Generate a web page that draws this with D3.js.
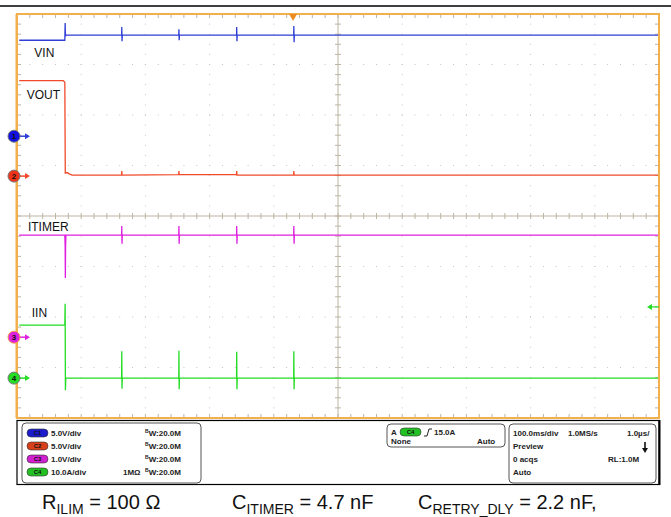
<!DOCTYPE html>
<html>
<head>
<meta charset="UTF-8">
<title>scope capture</title>
<script src="https://cdn.jsdelivr.net/npm/d3@7"></script>
<style>
  body { margin: 0; background: #fff; }
  text { font-family: "Liberation Sans", Arial, sans-serif; }
</style>
</head>
<body>
<svg id="scope" width="671" height="517" xmlns="http://www.w3.org/2000/svg"></svg>
<script>
// time in ms from left edge of screen, 100 ms/div
const timeDomain = [0, 1000];
const trigTime = 430;
const trigLevelDiv = -1.8;

// channels: name, colour, volts per div, ground offset in div
const channels = [
  { id: "1", name: "VIN",    color: "#2f3fd6", perDiv: 5,  offset: 1.58 },
  { id: "2", name: "VOUT",   color: "#f04a2a", perDiv: 5,  offset: 0.79 },
  { id: "3", name: "ITIMER", color: "#e020e0", perDiv: 1,  offset: -2.40 },
  { id: "4", name: "IIN",    color: "#22dd22", perDiv: 10, offset: -3.21 }
];

// waveforms as [t(ms), value]
const vin = [[3.5,9.5],[74.5,9.5],[75,11.2],[75.5,9.9],[76,10],
  [163,10],[163.2,10.8],[163.6,9.4],[164,10],
  [252,10],[252.2,10.6],[252.6,9.5],[253,10],
  [342,10],[342.2,10.8],[342.6,9.4],[343,10],
  [431,10],[431.2,10.9],[431.6,9.3],[432,10],
  [1000,10]];
const vout = [[3.5,9.46],[72,9.46],[74.5,9.3],[75.2,0.3],[78,0.35],[82,0.2],[86,0.1],
  [163,0.1],[163.2,0.5],[163.6,0.1],[252,0.15],[252.2,0.5],[252.6,0.15],
  [342,0.15],[342.2,0.5],[342.6,0.1],[431,0.1],[431.2,0.5],[431.6,0.1],
  [1000,0.1]];
const itimer = [[3.5,2.02],[74.5,2.02],[75,1.8],[75.3,1.17],[75.7,1.8],[76.2,2.02],
  [163,2.02],[163.2,2.2],[163.6,1.85],[164,2.02],
  [252,2.02],[252.2,2.2],[252.6,1.85],[253,2.02],
  [342,2.02],[342.2,2.2],[342.6,1.85],[343,2.02],
  [431,2.02],[431.2,2.2],[431.6,1.85],[432,2.02],
  [1000,2.02]];
const iin = [[3.5,10.5],[73,10.5],[74.5,10.6],[75,14.7],[75.4,-2.4],[76,0],
  [163,0],[163.2,5.3],[163.6,-2.1],[164,0],
  [252,0],[252.2,5.4],[252.6,-2.2],[253,0],
  [342,0],[342.2,5.2],[342.6,-2.2],[343,0],
  [431,0],[431.2,5.3],[431.6,-2.2],[432,0],
  [1000,0]];
const waves = [vin, vout, itimer, iin];

const labels = [
  { text: "VIN",    t: 27, div: 3.14 },
  { text: "VOUT",   t: 15, div: 2.31 },
  { text: "ITIMER", t: 17, div: -0.29 },
  { text: "IIN",    t: 23, div: -2.0 }
];

const chanRows = [
  { pill: "C1", scale: "5.0V/div",  imp: "",    bw: "20.0M" },
  { pill: "C2", scale: "5.0V/div",  imp: "",    bw: "20.0M" },
  { pill: "C3", scale: "1.0V/div",  imp: "",    bw: "20.0M" },
  { pill: "C4", scale: "10.0A/div", imp: "1MΩ", bw: "20.0M" }
];
const pillColors = ["#1c1ccc", "#d8401c", "#d020d0", "#22c022"];

const svg = d3.select("#scope");
const W = 671;
const pL = 17, pR = 659, pT = 14, pB = 418;

const x = d3.scaleLinear().domain(timeDomain).range([pL, pR]);
const y = d3.scaleLinear().domain([-4, 4]).range([pB, pT]);
const divX = (pR - pL) / 10, divY = (pB - pT) / 8;

// header rule
svg.append("line").attr("x1", 0).attr("x2", W).attr("y1", 6).attr("y2", 6)
  .attr("stroke", "#000").attr("stroke-width", 1.5);

// dotted grid
const g = svg.append("g");
for (let i = 1; i < 10; i++) {
  if (i === 5) continue;
  for (let k = 1; k < 40; k++) {
    g.append("rect").attr("x", pL + i * divX - 0.5).attr("y", pT + k * divY / 5 - 0.5)
      .attr("width", 1).attr("height", 1).attr("fill", "#c4c4c4");
  }
}
for (let j = 1; j < 8; j++) {
  if (j === 4) continue;
  for (let k = 1; k < 50; k++) {
    g.append("rect").attr("x", pL + k * divX / 5 - 0.5).attr("y", pT + j * divY - 0.5)
      .attr("width", 1).attr("height", 1).attr("fill", "#c4c4c4");
  }
}
// centre cross with minor ticks
const cx = x(500), cy = y(0);
const tickCol = "#bdb5a4";
g.append("line").attr("x1", cx).attr("x2", cx).attr("y1", pT).attr("y2", pB)
  .attr("stroke", tickCol).attr("stroke-width", 1);
g.append("line").attr("x1", pL).attr("x2", pR).attr("y1", cy).attr("y2", cy)
  .attr("stroke", tickCol).attr("stroke-width", 1);
for (let k = 1; k < 50; k++) {
  const px = pL + k * divX / 5;
  g.append("line").attr("x1", px).attr("x2", px).attr("y1", cy - 3).attr("y2", cy + 3)
    .attr("stroke", tickCol);
  g.append("line").attr("x1", px).attr("x2", px).attr("y1", pT).attr("y2", pT + 4)
    .attr("stroke", tickCol);
  g.append("line").attr("x1", px).attr("x2", px).attr("y1", pB - 4).attr("y2", pB)
    .attr("stroke", tickCol);
}
for (let k = 1; k < 40; k++) {
  const py = pT + k * divY / 5;
  g.append("line").attr("x1", cx - 3).attr("x2", cx + 3).attr("y1", py).attr("y2", py)
    .attr("stroke", tickCol);
  g.append("line").attr("x1", pL).attr("x2", pL + 4).attr("y1", py).attr("y2", py)
    .attr("stroke", tickCol);
  g.append("line").attr("x1", pR - 4).attr("x2", pR).attr("y1", py).attr("y2", py)
    .attr("stroke", tickCol);
}

// traces
channels.forEach((ch, i) => {
  const line = d3.line()
    .x(d => x(d[0]))
    .y(d => y(ch.offset + d[1] / ch.perDiv));
  svg.append("path").datum(waves[i]).attr("d", line)
    .attr("fill", "none").attr("stroke", ch.color).attr("stroke-width", 1.3);
});

// trace labels
labels.forEach(l => {
  svg.append("text").attr("x", x(l.t)).attr("y", y(l.div))
    .attr("font-size", 12).attr("fill", "#111").text(l.text);
});

// frame
svg.append("rect").attr("x", pL).attr("y", pT).attr("width", pR - pL).attr("height", pB - pT)
  .attr("fill", "none").attr("stroke", "#f1b04c").attr("stroke-width", 2);
svg.append("line").attr("x1", pL - 0.5).attr("x2", pL - 0.5).attr("y1", pT).attr("y2", pB)
  .attr("stroke", "#f1b04c").attr("stroke-width", 2);

// trigger position marker
const tx = x(trigTime);
svg.append("path").attr("d", `M${tx - 4},${pT} L${tx + 4},${pT} L${tx},${pT + 7} Z`)
  .attr("fill", "#ee8a22");

// trigger level marker for C4
const ty = y(trigLevelDiv);
svg.append("line").attr("x1", pR - 8).attr("x2", pR).attr("y1", ty).attr("y2", ty)
  .attr("stroke", "#22dd22").attr("stroke-width", 1.2);
svg.append("path").attr("d", `M${pR - 12},${ty} L${pR - 7},${ty - 3} L${pR - 7},${ty + 3} Z`)
  .attr("fill", "#22dd22");

// channel ground markers
channels.forEach(ch => {
  const py = y(ch.offset);
  const m = svg.append("g");
  m.append("line").attr("x1", 18).attr("x2", 26).attr("y1", py).attr("y2", py)
    .attr("stroke", ch.color).attr("stroke-width", 1.5);
  m.append("path").attr("d", `M${30},${py} L${25},${py - 3} L${25},${py + 3} Z`).attr("fill", ch.color);
  m.append("circle").attr("cx", 14).attr("cy", py).attr("r", 6)
    .attr("fill", ch.id === "1" ? "#1010e0" : ch.id === "2" ? "#ee3318" : ch.color)
    .attr("stroke", ch.id === "3" ? "#f1a04c" : "#777").attr("stroke-width", 1);
  m.append("text").attr("x", 14).attr("y", py + 3).attr("text-anchor", "middle")
    .attr("font-size", 8).attr("font-weight", "bold").attr("fill", "#111").text(ch.id);
});

// info panel
const info = svg.append("g");
info.append("rect").attr("x", 17).attr("y", 420.5).attr("width", 642).attr("height", 64)
  .attr("fill", "none").attr("stroke", "#000").attr("stroke-width", 1.2);
info.append("line").attr("x1", 659.5).attr("x2", 659.5).attr("y1", 420).attr("y2", 485)
  .attr("stroke", "#000").attr("stroke-width", 2);
info.append("rect").attr("x", 22).attr("y", 423).attr("width", 179).attr("height", 60).attr("rx", 4)
  .attr("fill", "none").attr("stroke", "#555").attr("stroke-width", 1);

function pill(parent, px, py, label, color) {
  parent.append("rect").attr("x", px).attr("y", py - 4).attr("width", 21).attr("height", 8)
    .attr("rx", 4).attr("fill", color).attr("stroke", "#333").attr("stroke-width", 0.6);
  parent.append("text").attr("x", px + 10.5).attr("y", py + 2.3).attr("text-anchor", "middle")
    .attr("font-size", 6).attr("font-weight", "bold").attr("fill", "#111").text(label);
}

chanRows.forEach((r, i) => {
  const py = 433 + i * 13;
  pill(info, 27, py, r.pill, pillColors[i]);
  info.append("text").attr("x", 51).attr("y", py + 3).attr("font-size", 8).attr("font-weight", "bold")
    .attr("fill", "#222").text(r.scale);
  if (r.imp) {
    info.append("text").attr("x", 123).attr("y", py + 3).attr("font-size", 8).attr("font-weight", "bold")
      .attr("fill", "#222").text(r.imp);
  }
  const bw = info.append("text").attr("x", 145).attr("y", py + 3).attr("font-size", 8)
    .attr("font-weight", "bold").attr("fill", "#222");
  bw.append("tspan").attr("font-size", 5).attr("dy", -3).text("B");
  bw.append("tspan").attr("dy", 3).text("W:" + r.bw);
});

// trigger box
info.append("rect").attr("x", 387).attr("y", 424).attr("width", 118).attr("height", 23).attr("rx", 4)
  .attr("fill", "none").attr("stroke", "#555").attr("stroke-width", 1);
info.append("text").attr("x", 391).attr("y", 435).attr("font-size", 8).attr("font-weight", "bold")
  .attr("fill", "#222").text("A");
pill(info, 400, 432, "C4", pillColors[3]);
info.append("path").attr("d", "M424,436 L427,436 L429,429 L432,429").attr("fill", "none")
  .attr("stroke", "#222").attr("stroke-width", 1);
info.append("text").attr("x", 434).attr("y", 435).attr("font-size", 8).attr("font-weight", "bold")
  .attr("fill", "#222").text("15.0A");
info.append("text").attr("x", 391).attr("y", 444).attr("font-size", 8).attr("font-weight", "bold")
  .attr("fill", "#222").text("None");
info.append("text").attr("x", 477).attr("y", 444).attr("font-size", 8).attr("font-weight", "bold")
  .attr("fill", "#222").text("Auto");

// timebase box
info.append("rect").attr("x", 509).attr("y", 424).attr("width", 147).attr("height", 59).attr("rx", 4)
  .attr("fill", "none").attr("stroke", "#555").attr("stroke-width", 1);
const tb = [
  [513, 436, "100.0ms/div"], [568, 436, "1.0MS/s"], [627, 436, "1.0µs/"],
  [513, 449, "Preview"], [513, 462, "0 acqs"], [608, 462, "RL:1.0M"], [513, 475, "Auto"]
];
tb.forEach(t => {
  info.append("text").attr("x", t[0]).attr("y", t[1]).attr("font-size", 8).attr("font-weight", "bold")
    .attr("fill", "#222").text(t[2]);
});
info.append("line").attr("x1", 645).attr("x2", 645).attr("y1", 442).attr("y2", 449)
  .attr("stroke", "#111").attr("stroke-width", 1.6);
info.append("path").attr("d", "M642,448 L648,448 L645,453 Z").attr("fill", "#111");

// caption
function part(main, sub, rest, px) {
  const t = svg.append("text").attr("x", px).attr("y", 509).attr("font-size", 20).attr("fill", "#111");
  t.append("tspan").text(main);
  t.append("tspan").attr("font-size", 14).attr("dy", 5).text(sub);
  t.append("tspan").attr("dy", -5).text(rest);
}
part("R", "ILIM", " = 100 Ω", 42);
part("C", "ITIMER", " = 4.7 nF", 232);
part("C", "RETRY_DLY", " = 2.2 nF,", 418);
</script>
</body>
</html>
